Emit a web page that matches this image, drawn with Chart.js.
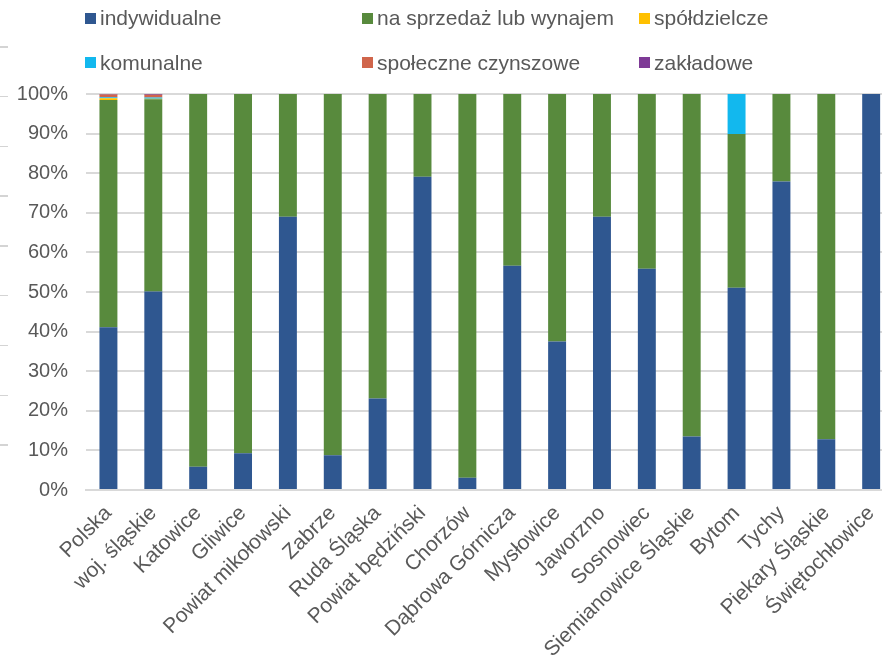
<!DOCTYPE html>
<html lang="pl">
<head>
<meta charset="utf-8">
<script src="https://cdn.jsdelivr.net/npm/chart.js@4/dist/chart.umd.min.js"></script>
<style>
  html, body { margin: 0; padding: 0; background: #ffffff; overflow: hidden; }
  #wrap { position: relative; width: 920px; height: 665px; }
  #wrap canvas { position: absolute; left: 0; top: 0; }
  #legend {
    position: absolute; left: 85px; top: 3px;
    display: grid; grid-template-columns: 277px 277px 277px;
    grid-auto-rows: 30px; row-gap: 14.7px;
    font-family: "Liberation Sans", Arial, sans-serif; font-size: 21px; color: #595959;
  }
  #legend .item { display: flex; align-items: center; white-space: nowrap; }
  #legend .box { width: 11px; height: 11px; margin-right: 4px; flex: none; }
  /* short grey rules along the left margin */
  #rules {
    position: absolute; left: 0; top: 46px; width: 8px; height: 401px;
    background: repeating-linear-gradient(to bottom, #d4d4d4 0, #d4d4d4 1.5px, transparent 1.5px, transparent 49.8px);
  }
</style>
</head>
<body>
<div id="wrap">
  <div id="rules"></div>
  <canvas id="chart" width="920" height="665"></canvas>
  <div id="legend"></div>
</div>
<script>
// Struktura mieszkań oddanych do użytkowania według form budownictwa (%)
const categories = [
  'Polska', 'woj. śląskie', 'Katowice', 'Gliwice', 'Powiat mikołowski', 'Zabrze',
  'Ruda Śląska', 'Powiat będziński', 'Chorzów', 'Dąbrowa Górnicza', 'Mysłowice',
  'Jaworzno', 'Sosnowiec', 'Siemianowice Śląskie', 'Bytom', 'Tychy',
  'Piekary Śląskie', 'Świętochłowice'
];
const indywidualne = [41.1, 50.1, 5.9, 9.3, 69.0, 8.8, 23.1, 79.1, 3.1, 56.6, 37.5, 69.0, 55.9, 13.5, 51.1, 77.9, 12.8, 100];
const naSprzedazLubWynajem = [57.4, 48.6, 94.1, 90.7, 31.0, 91.2, 76.9, 20.9, 96.9, 43.4, 62.5, 31.0, 44.1, 86.5, 38.8, 22.1, 87.2, 0];
const spoldzielcze = [0.4, 0.1, 0, 0, 0, 0, 0, 0, 0, 0, 0, 0, 0, 0, 0, 0, 0, 0];
const komunalne = [0.3, 0.3, 0, 0, 0, 0, 0, 0, 0, 0, 0, 0, 0, 0, 10.1, 0, 0, 0];
const spoleczneCzynszowe = [0.7, 0.7, 0, 0, 0, 0, 0, 0, 0, 0, 0, 0, 0, 0, 0, 0, 0, 0];
const zakladowe = [0.1, 0.2, 0, 0, 0, 0, 0, 0, 0, 0, 0, 0, 0, 0, 0, 0, 0, 0];
const yTicks = [0, 10, 20, 30, 40, 50, 60, 70, 80, 90, 100];

const seriesNames = ['indywidualne', 'na sprzedaż lub wynajem', 'spółdzielcze', 'komunalne', 'społeczne czynszowe', 'zakładowe'];
const seriesValues = [indywidualne, naSprzedazLubWynajem, spoldzielcze, komunalne, spoleczneCzynszowe, zakladowe];
const seriesColors = ['#2F5790', '#588A3D', '#FFC000', '#12B8EE', '#D0654B', '#7E3A96'];

const FONT = '"Liberation Sans", Arial, sans-serif';
const TEXT = '#595959';

// legend laid out in three columns, built from the chart's datasets
const htmlLegend = {
  id: 'htmlLegend',
  afterUpdate(chart) {
    const host = document.getElementById('legend');
    host.innerHTML = '';
    chart.data.datasets.forEach(ds => {
      const item = document.createElement('div');
      item.className = 'item';
      const box = document.createElement('span');
      box.className = 'box';
      box.style.background = ds.backgroundColor;
      const label = document.createElement('span');
      label.textContent = ds.label;
      item.appendChild(box);
      item.appendChild(label);
      host.appendChild(item);
    });
  }
};

new Chart(document.getElementById('chart'), {
  type: 'bar',
  data: {
    labels: categories,
    datasets: seriesNames.map((name, i) => ({
      label: name,
      data: seriesValues[i],
      backgroundColor: seriesColors[i],
      borderWidth: 0,
      barPercentage: 0.4,
      categoryPercentage: 1.0
    }))
  },
  plugins: [htmlLegend],
  options: {
    responsive: false,
    animation: false,
    layout: { padding: { top: 94, right: 26.4, bottom: 0, left: 0 } },
    plugins: {
      legend: { display: false },
      tooltip: { enabled: false }
    },
    scales: {
      x: {
        stacked: true,
        grid: { display: false, drawTicks: false },
        border: { display: true, color: '#d9d9d9', width: 2 },
        ticks: {
          color: TEXT,
          font: { family: FONT, size: 21 },
          minRotation: 45,
          maxRotation: 45,
          autoSkip: false,
          padding: 11
        },
        afterFit(scale) { scale.height = 175; }
      },
      y: {
        stacked: true,
        min: 0,
        max: 100,
        afterBuildTicks(scale) { scale.ticks = yTicks.map(v => ({ value: v })); },
        grid: { color: '#d9d9d9', lineWidth: 2, drawTicks: false },
        border: { display: false },
        ticks: {
          color: TEXT,
          font: { family: FONT, size: 20 },
          padding: 18,
          callback: v => v + '%'
        },
        afterFit(scale) { scale.width = 86; }
      }
    }
  }
});
</script>
</body>
</html>
